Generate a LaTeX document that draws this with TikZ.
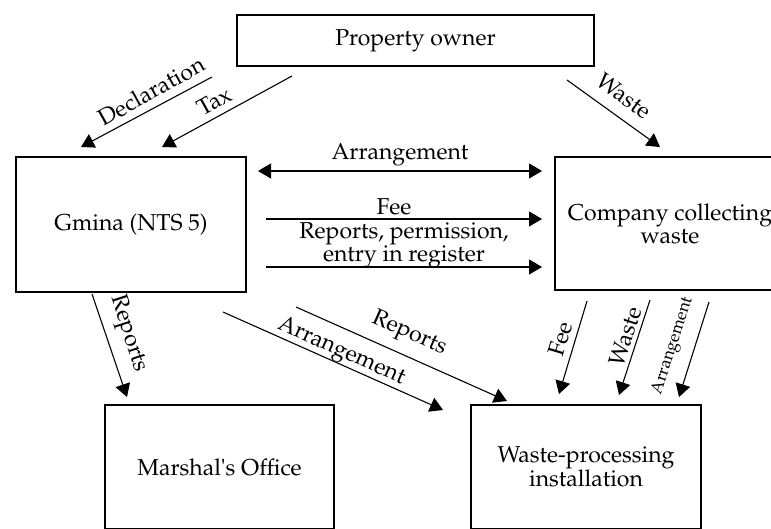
\documentclass[tikz,border=0pt]{standalone}
\usepackage[T1]{fontenc}
\usepackage{mathpazo}
\usepackage{textcomp}
\usetikzlibrary{arrows.meta,calc}
\begin{document}
\begin{tikzpicture}[x=1pt,y=-1pt,
  box/.style={draw, line width=2pt, inner sep=0pt, align=center, font=\fontsize{23}{23}\selectfont},
  arr/.style={-{Triangle[length=13pt,width=15pt]}, line width=1.1pt},
  dbl/.style={{Triangle[length=13pt,width=15pt]}-{Triangle[length=13pt,width=15pt]}, line width=1.1pt},
  lbl/.style={font=\fontsize{23}{23}\selectfont, inner sep=0pt, align=center},
  slbl/.style={font=\fontsize{17}{17}\selectfont, inner sep=0pt}]
\useasboundingbox (0,0) rectangle (771,528);
\clip (0,0) rectangle (771,528);
% boxes
\node[box, minimum width=357pt, minimum height=51pt] (po) at (415.5,40.5) {Property owner};
\node[box, minimum width=230pt, minimum height=135pt] (gm) at (131,224.5) {Gmina (NTS 5)};
\node[box, minimum width=230pt, minimum height=133pt] (co) at (670,223.5) {Company collecting\\waste};
\node[box, minimum width=229pt, minimum height=124pt] (ma) at (219.5,467) {Marshal\textquotesingle s Office};
\node[box, minimum width=230pt, minimum height=124pt] (wp) at (586,467) {Waste-processing\\installation};
% top arrows
\draw[arr] ($(po.south west)+(-24,10)$) -- ($(gm.north west)+(66,-9)$);
\draw[arr] ($(po.south west)+(56,9)$) -- ($(gm.north west)+(147,-9)$);
\draw[arr] ($(po.south east)+(-28,13)$) -- ($(co.north west)+(106,-9)$);
\node[lbl, rotate=29] at (151,91) {Declaration};
\node[lbl, rotate=29] at (214,101) {Tax};
\node[lbl, rotate=-36] at (624,96) {Waste};
% horizontal arrows
\draw[dbl] ($(gm.north east)+(11,15)$) -- ($(co.north west)+(-12,15)$);
\draw[arr] ($(gm.north east)+(19,63)$) -- ($(co.north west)+(-12,63)$);
\draw[arr] ($(gm.north east)+(19,111)$) -- ($(co.north west)+(-12,111)$);
\node[lbl] at (400,155) {Arrangement};
\node[lbl] at (394,207) {Fee};
\node[lbl] at (404,245) {Reports, permission,\\entry in register};
% lower arrows from Gmina
\draw[arr] ($(gm.south west)+(77,1)$) -- ($(ma.north west)+(23,-7)$);
\draw[arr] ($(gm.south east)+(-24,19)$) -- ($(wp.north west)+(-27,6)$);
\draw[arr] ($(gm.south east)+(49,14)$) -- ($(wp.north west)+(37,-3)$);
\node[lbl, rotate=-72] at (128,334) {Reports};
\node[lbl, rotate=-24] at (341,352) {Arrangement};
\node[lbl, rotate=-24] at (409,334) {Reports};
% lower arrows from Company
\draw[arr] ($(co.south west)+(33,10)$) -- ($(wp.north west)+(89,-10)$);
\draw[arr] ($(co.south west)+(96,9)$) -- ($(wp.north west)+(149,-9)$);
\draw[arr] ($(co.south west)+(155,11)$) -- ($(wp.north west)+(209,-7)$);
\node[lbl, rotate=73] at (560,339) {Fee};
\node[lbl, rotate=72] at (625,336) {Waste};
\node[slbl, rotate=72] at (673,346) {Arrangement};
\end{tikzpicture}
\end{document}
